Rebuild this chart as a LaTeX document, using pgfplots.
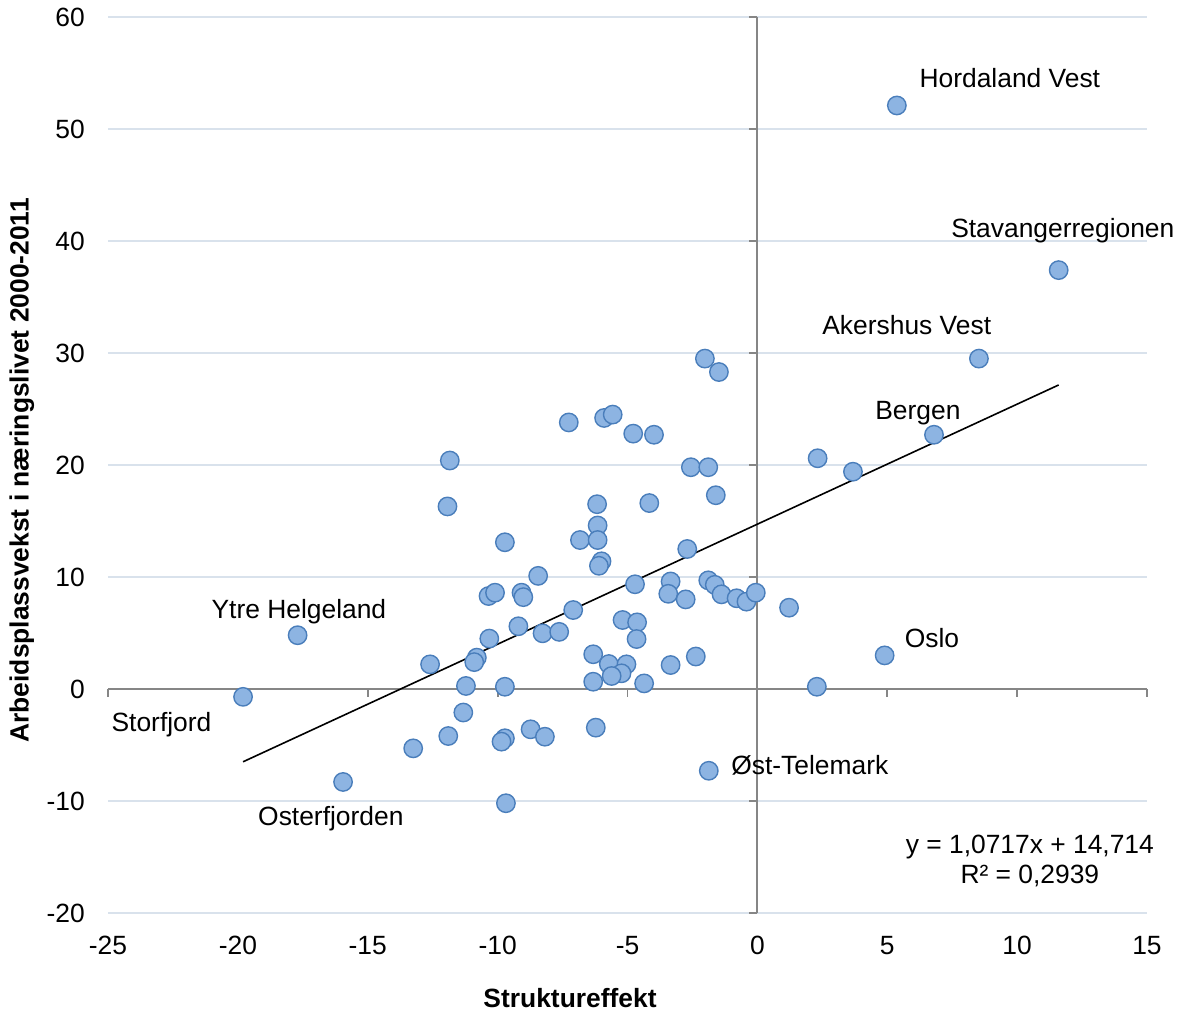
\documentclass[border=0pt]{standalone}
\usepackage{fontspec}
\setmainfont{Liberation Sans}
\usepackage{pgfplots}
\pgfplotsset{compat=1.18}
\definecolor{gridc}{RGB}{217,226,236}
\definecolor{axc}{RGB}{134,134,134}
\definecolor{mfill}{RGB}{141,180,226}
\definecolor{mdraw}{RGB}{74,126,187}
\begin{document}
\fontsize{13.2}{15.8}\selectfont
\begin{tikzpicture}
\useasboundingbox (-54pt,-49pt) rectangle (538.5pt,456.5pt);
\begin{axis}[
  at={(0,0)}, anchor=south west,
  scale only axis, width=519.5pt, height=448pt,
  xmin=-25, xmax=15, ymin=-20, ymax=60,
  axis line style={draw=none},
  xtick={-25,-20,-15,-10,-5,0,5,10,15},
  ytick={-20,-10,0,10,20,30,40,50,60},
  xticklabels={-25,-20,-15,-10,-5,0,5,10,15},
  yticklabels={-20,-10,0,10,20,30,40,50,60},
  major tick length=0pt, tick style={draw=none},
  ymajorgrids, grid style={gridc, line width=0.75pt},
  xticklabel style={yshift=-7pt},
  yticklabel style={xshift=-7pt},
  xlabel={\textbf{Struktureffekt}},
  ylabel={\textbf{Arbeidsplassvekst i næringslivet 2000-2011}},
  xlabel style={at={(axis description cs:0.4447,-0.0949)}, anchor=center},
  ylabel style={at={(axis description cs:-0.0828,0.494)}, anchor=center},
  clip=false,
]
\draw[axc, line width=0.9pt] (axis cs:-25,0) -- (axis cs:15,0);
\draw[axc, line width=0.9pt] (axis cs:0,-20) -- (axis cs:0,60);
\pgfplotsinvokeforeach{-25,-20,-15,-10,-5,0,5,10,15}{
  \draw[axc, line width=0.9pt] (axis cs:#1,0) -- ++(0pt,-4pt);
}
\pgfplotsinvokeforeach{-20,-10,0,10,20,30,40,50,60}{
  \draw[axc, line width=0.9pt] (axis cs:0,#1) -- ++(-4pt,0pt);
}
\addplot[only marks, mark=*, mark size=4.6pt,
  mark options={fill=mfill, draw=mdraw, line width=0.7pt}] table {
x y
5.37 52.1
11.6 37.4
8.53 29.5
6.8 22.7
2.32 20.6
3.68 19.4
1.22 7.26
4.9 3.0
2.29 0.2
-1.87 -7.3
-17.7 4.8
-19.8 -0.7
-15.95 -8.3
-2.02 29.5
-1.48 28.3
-7.26 23.8
-5.9 24.2
-5.57 24.5
-4.78 22.8
-3.98 22.7
-11.84 20.4
-2.56 19.8
-1.89 19.8
-1.6 17.3
-11.93 16.3
-6.17 16.5
-4.16 16.6
-6.15 14.6
-6.83 13.3
-6.15 13.3
-9.72 13.1
-6.0 11.4
-6.1 11.0
-2.7 12.5
-8.44 10.1
-10.35 8.3
-10.1 8.6
-9.08 8.6
-9.01 8.2
-4.71 9.35
-3.34 9.6
-3.43 8.5
-2.76 8.0
-1.89 9.7
-1.64 9.3
-1.38 8.45
-0.8 8.1
-0.42 7.8
-0.06 8.6
-7.09 7.05
-9.2 5.6
-8.27 4.97
-7.63 5.1
-10.32 4.5
-12.6 2.2
-10.8 2.8
-10.9 2.4
-11.22 0.27
-9.72 0.2
-5.19 6.16
-4.63 5.95
-4.65 4.46
-6.32 3.1
-5.72 2.23
-5.04 2.2
-5.23 1.4
-5.61 1.16
-6.32 0.65
-4.36 0.5
-3.34 2.14
-2.37 2.9
-11.32 -2.1
-11.9 -4.2
-13.25 -5.3
-9.72 -4.4
-9.85 -4.7
-8.73 -3.6
-8.18 -4.26
-6.22 -3.45
-9.68 -10.2
};
\addplot[black, line width=0.8pt] coordinates {(-19.8,-6.5) (11.6,27.146)};
\node[anchor=base] at (axis cs:9.72,53.7) {Hordaland Vest};
\node[anchor=base] at (axis cs:11.76,40.3) {Stavangerregionen};
\node[anchor=base] at (axis cs:5.75,31.65) {Akershus Vest};
\node[anchor=base] at (axis cs:6.18,24.05) {Bergen};
\node[anchor=base] at (axis cs:6.72,3.7) {Oslo};
\node[anchor=base] at (axis cs:2.02,-7.64) {Øst-Telemark};
\node[anchor=base] at (axis cs:-17.65,6.29) {Ytre Helgeland};
\node[anchor=base] at (axis cs:-22.94,-3.8) {Storfjord};
\node[anchor=base] at (axis cs:-16.42,-12.19) {Osterfjorden};
\node[anchor=base] at (axis cs:10.49,-14.69) {y = 1,0717x + 14,714};
\node[anchor=base] at (axis cs:10.49,-17.37) {R² = 0,2939};
\end{axis}
\end{tikzpicture}
\end{document}
